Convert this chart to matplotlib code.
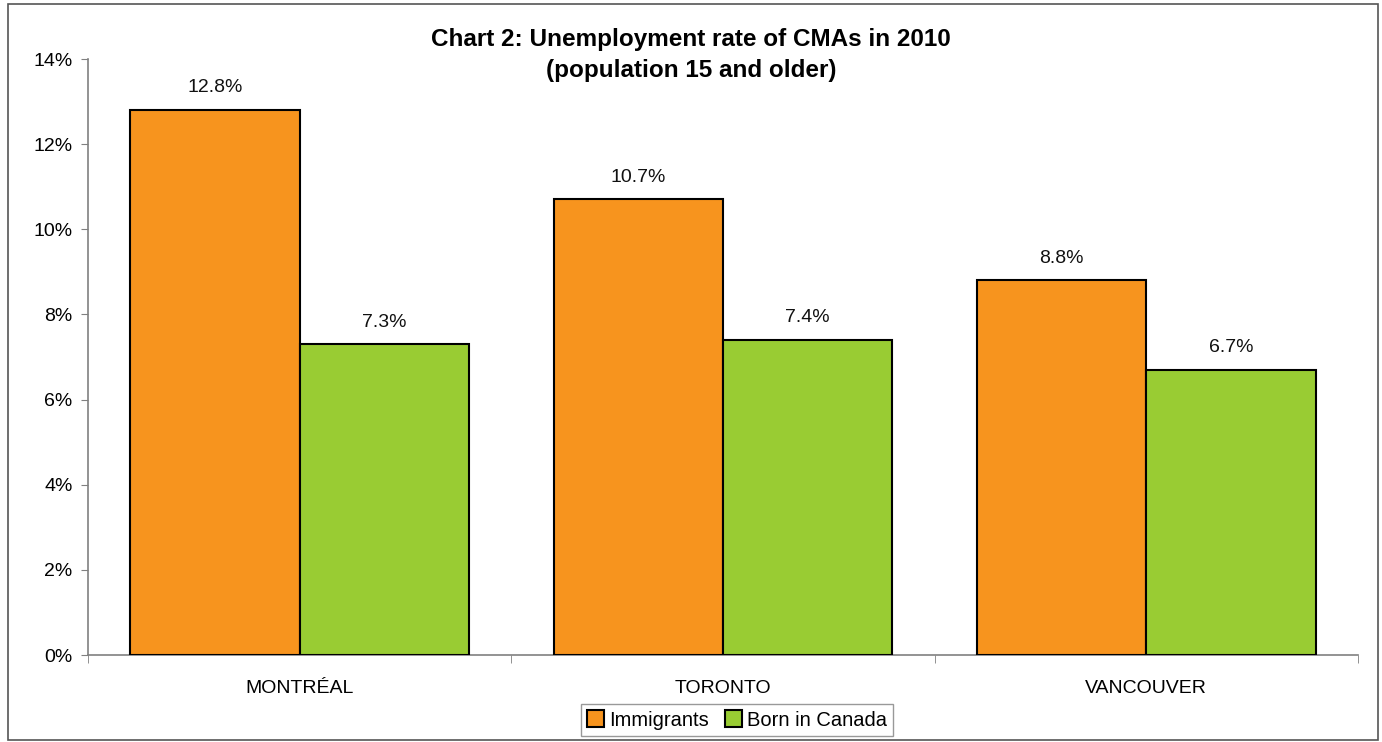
import matplotlib
matplotlib.use("Agg")
import matplotlib.pyplot as plt
from matplotlib.patches import Rectangle
import numpy as np

plt.rcParams['font.family'] = ['Liberation Sans', 'DejaVu Sans']

categories = ["MONTRÉAL", "TORONTO", "VANCOUVER"]
immigrants = [12.8, 10.7, 8.8]
born_in_canada = [7.3, 7.4, 6.7]
series_names = ["Immigrants", "Born in Canada"]
yticks = [0, 2, 4, 6, 8, 10, 12, 14]
ytick_labels = ["0%", "2%", "4%", "6%", "8%", "10%", "12%", "14%"]
title = "Chart 2: Unemployment rate of CMAs in 2010\n(population 15 and older)"

orange = "#F7941E"
green = "#99CC33"

fig = plt.figure(figsize=(13.82, 7.42), dpi=100)
fig.patch.set_facecolor("white")
ax = fig.add_axes([88/1382, 1-655/742, (1358-88)/1382, (655-59)/742])

x = np.arange(len(categories))
w = 0.4
b1 = ax.bar(x - w/2, immigrants, width=w, color=orange, edgecolor="black", linewidth=1.5, label=series_names[0], zorder=3)
b2 = ax.bar(x + w/2, born_in_canada, width=w, color=green, edgecolor="black", linewidth=1.5, label=series_names[1], zorder=3)

for bars, vals in ((b1, immigrants), (b2, born_in_canada)):
    for r, v in zip(bars, vals):
        ax.annotate(f"{v:.1f}%", (r.get_x() + r.get_width()/2, v), xytext=(0, 16),
                    textcoords="offset points", ha="center", va="center", fontsize=14, color="#111111")

ax.set_xlim(-0.5, len(categories) - 0.5)
ax.set_ylim(0, 14)
ax.set_yticks(yticks)
ax.set_yticklabels(ytick_labels, fontsize=14)
ax.set_xticks(x)
ax.set_xticklabels(categories, fontsize=14)
ax.tick_params(axis="x", length=0, pad=18)
ax.tick_params(axis="y", length=5, color="#808080", pad=6)
# category boundary ticks
ax.set_xticks(np.arange(len(categories) + 1) - 0.5, minor=True)
ax.tick_params(axis="x", which="minor", length=6, color="#808080")
for s in ("top", "right"):
    ax.spines[s].set_visible(False)
for s in ("left", "bottom"):
    ax.spines[s].set_color("#808080")
    ax.spines[s].set_linewidth(1.2)

fig.text(0.5, 1-55/742, title, ha="center", va="center", fontsize=17.5, fontweight="bold", linespacing=1.4)

leg = ax.legend(loc="center", bbox_to_anchor=(737/1382, 1-720/742), bbox_transform=fig.transFigure,
                ncol=2, fontsize=14.5, frameon=True, fancybox=False, edgecolor="#808080",
                handlelength=0.85, handleheight=0.85, handletextpad=0.25, columnspacing=0.8,
                borderpad=0.3, borderaxespad=0)
leg.get_frame().set_linewidth(1.0)

fig.add_artist(Rectangle((8/1382, 1-740/742), (1378-8)/1382, (740-4)/742, transform=fig.transFigure,
                         fill=False, edgecolor="#555555", linewidth=1.2))

fig.savefig("out.png", dpi=100)
